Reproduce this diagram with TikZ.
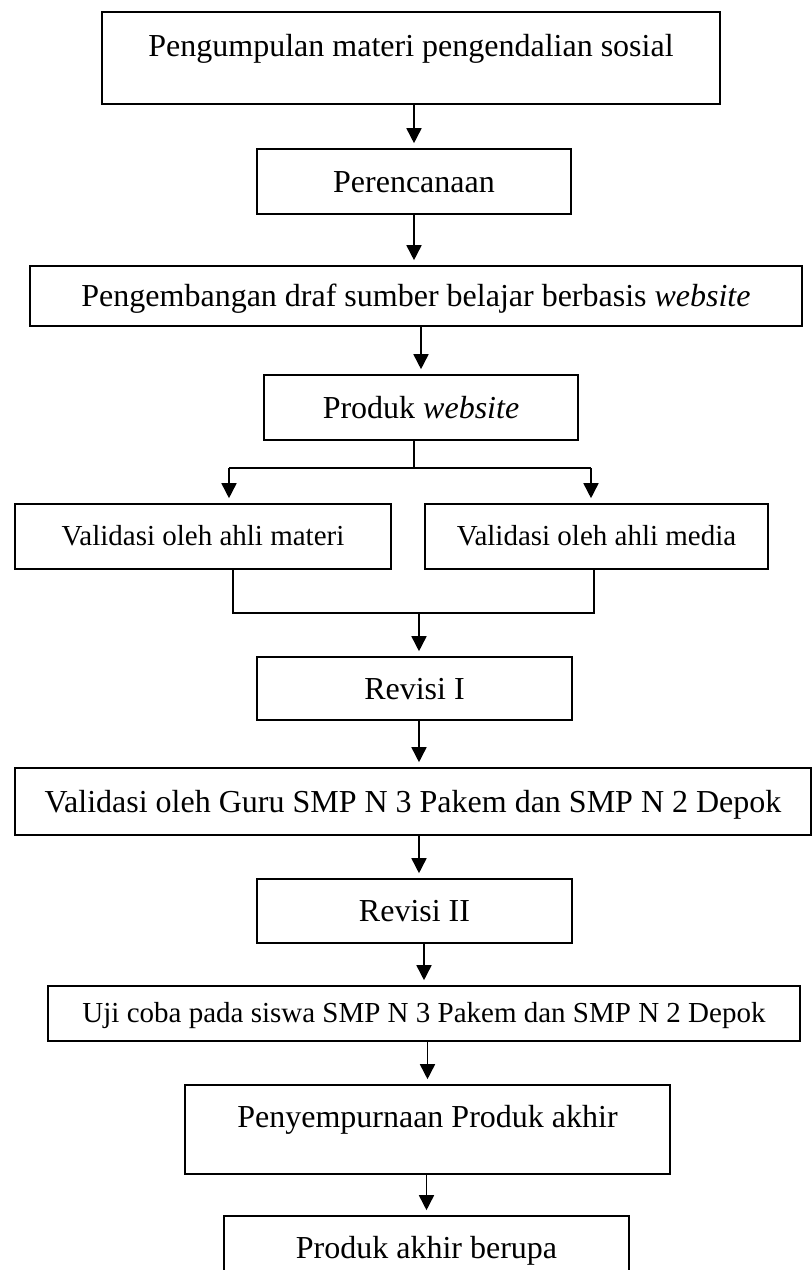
\documentclass[tikz,border=0pt]{standalone}
\usepackage{fontspec}
\setmainfont{Liberation Serif}
\usetikzlibrary{arrows.meta}
\newcommand{\bigtxt}{\fontsize{16}{19}\selectfont}
\newcommand{\smalltxt}{\fontsize{14.5}{17}\selectfont}

\begin{document}
\begin{tikzpicture}[x=0.5pt,y=-0.5pt,
    box/.style={draw,line width=0.8pt,inner sep=0pt,text height=13pt,text depth=2.5pt,font=\bigtxt},
    tallbox/.style={box,text depth=15pt},
    smallbox/.style={box,font=\smalltxt,text height=11.5pt,text depth=3pt},
    arr/.style={line width=0.8pt,-{Triangle[length=7.5pt,width=7.5pt]},shorten >=2.5pt},
    line/.style={line width=0.8pt}]
  \useasboundingbox (0,0) rectangle (812,1270);
  \clip (0,0) rectangle (812,1270);
  % boxes (positions in pixels of the original figure)
  \node[tallbox,minimum width=309pt,minimum height=46pt] (kumpul) at (411,58) {Pengumpulan materi pengendalian sosial};
  \node[box,minimum width=157pt,minimum height=32.5pt] (rencana) at (414,181.5) {Perencanaan};
  \node[box,minimum width=386pt,minimum height=30pt] (draf) at (416,296) {Pengembangan draf sumber belajar berbasis \textit{website}};
  \node[box,minimum width=157pt,minimum height=32.5pt] (produk) at (421,407.5) {Produk \textit{website}};
  \node[smallbox,minimum width=188pt,minimum height=32.5pt] (valmateri) at (203,536.5) {Validasi oleh ahli materi};
  \node[smallbox,minimum width=171.5pt,minimum height=32.5pt] (valmedia) at (596.5,536.5) {Validasi oleh ahli media};
  \node[box,minimum width=157.5pt,minimum height=31.5pt] (revisi1) at (414.5,688.5) {Revisi I};
  \node[box,minimum width=398pt,minimum height=33.5pt] (valguru) at (413,801.5) {Validasi oleh Guru SMP N 3 Pakem dan SMP N 2 Depok};
  \node[box,minimum width=157.5pt,minimum height=32pt] (revisi2) at (414.5,911) {Revisi II};
  \node[smallbox,minimum width=376pt,minimum height=27.5pt] (ujicoba) at (424,1013.5) {Uji coba pada siswa SMP N 3 Pakem dan SMP N 2 Depok};
  \node[tallbox,minimum width=242.5pt,minimum height=44.5pt] (sempurna) at (427.5,1129.5) {Penyempurnaan Produk akhir};
  \node[tallbox,minimum width=202.5pt,minimum height=44.5pt] (akhir) at (426.5,1260.5) {Produk akhir berupa};
  % branch and join points
  \coordinate (cabang) at (414,468);
  \coordinate (cabangkiri) at (229,468);
  \coordinate (cabangkanan) at (591,468);
  \coordinate (gabungkiri) at (233,613);
  \coordinate (gabungkanan) at (594,613);
  \coordinate (gabung) at (419,613);
  % arrows
  \draw[arr] (kumpul.south -| rencana.north) -- (rencana.north);
  \draw[arr] (rencana.south) -- (rencana.south |- draf.north);
  \draw[arr] (draf.south -| produk.north) -- (produk.north);
  \draw[line] (produk.south -| cabang) -- (cabang);
  \draw[line] (cabangkiri) -- (cabangkanan);
  \draw[arr] (cabangkiri) -- (cabangkiri |- valmateri.north);
  \draw[arr] (cabangkanan) -- (cabangkanan |- valmedia.north);
  \draw[line] (valmateri.south -| gabungkiri) -- (gabungkiri) -- (gabungkanan) -- (valmedia.south -| gabungkanan);
  \draw[arr] (gabung) -- (gabung |- revisi1.north);
  \draw[arr] (revisi1.south -| gabung) -- (gabung |- valguru.north);
  \draw[arr] (valguru.south -| gabung) -- (gabung |- revisi2.north);
  \draw[arr] (revisi2.south -| ujicoba.north) -- (ujicoba.north);
  \draw[arr] (ujicoba.south -| sempurna.north) -- (sempurna.north);
  \draw[arr] (sempurna.south -| akhir.north) -- (akhir.north);
\end{tikzpicture}
\end{document}
